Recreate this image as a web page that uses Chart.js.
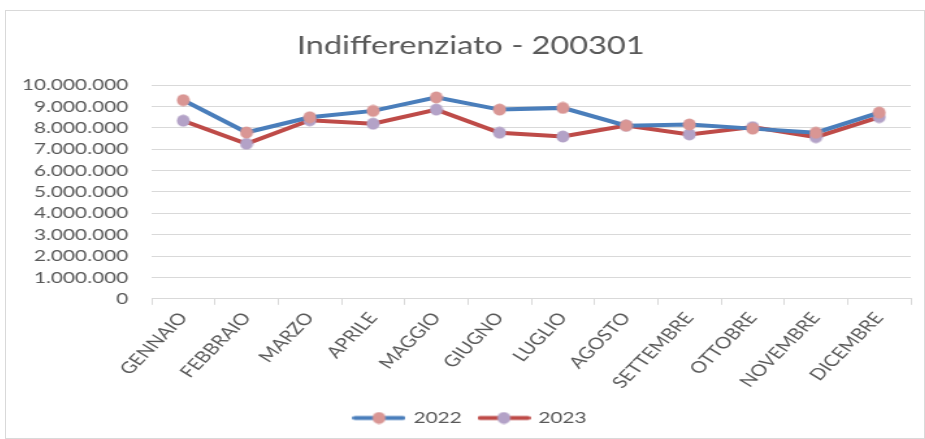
<!DOCTYPE html>
<html>
<head>
<meta charset="utf-8">
<script src="https://cdn.jsdelivr.net/npm/chart.js@4/dist/chart.umd.min.js"></script>
<style>
  html, body { margin: 0; padding: 0; background: #fff; overflow: hidden; }
  #box { position: absolute; left: 5px; top: 10px; width: 918px; height: 427px; border: 1px solid #d9d9d9; overflow: hidden; }
  /* the original picture is stretched sideways, so the canvas is too */
  #chart { display: block; transform: scaleX(1.3); transform-origin: 0 0; }
</style>
</head>
<body>
<div id="box"><canvas id="chart" width="706" height="427"></canvas></div>
<script>
const months = ["GENNAIO", "FEBBRAIO", "MARZO", "APRILE", "MAGGIO", "GIUGNO",
    "LUGLIO", "AGOSTO", "SETTEMBRE", "OTTOBRE", "NOVEMBRE", "DICEMBRE"];
const values2022 = [9290000, 7780000, 8490000, 8790000, 9420000, 8850000,
    8930000, 8100000, 8150000, 7960000, 7770000, 8710000];
const values2023 = [8330000, 7250000, 8350000, 8190000, 8850000, 7770000,
    7590000, 8100000, 7690000, 8030000, 7560000, 8500000];

const BLUE = "#4a7ebb", RED = "#be4b48", PINK = "#d99694", LILAC = "#b3a2c7";

// round-looking dot once the canvas is stretched
function dot(color) {
    const c = document.createElement("canvas");
    c.width = 11;
    c.height = 13;
    const g = c.getContext("2d");
    g.fillStyle = color;
    g.beginPath();
    g.ellipse(5.5, 6.5, 5, 6, 0, 0, Math.PI * 2);
    g.fill();
    return c;
}

function legendIcon(lineColor, dotColor) {
    const c = document.createElement("canvas");
    c.width = 41;
    c.height = 13;
    const g = c.getContext("2d");
    g.strokeStyle = lineColor;
    g.lineWidth = 4;
    g.lineCap = "round";
    g.beginPath();
    g.moveTo(2, 6.5);
    g.lineTo(39, 6.5);
    g.stroke();
    g.fillStyle = dotColor;
    g.beginPath();
    g.ellipse(20.5, 6.5, 5, 6, 0, 0, Math.PI * 2);
    g.fill();
    return c;
}

function fmt(v) {
    return String(v).replace(/\B(?=(\d{3})+(?!\d))/g, ".");
}

const ctx = document.getElementById("chart").getContext("2d");
new Chart(ctx, {
    type: "line",
    data: {
        labels: months,
        datasets: [{
            label: "2022",
            data: values2022,
            borderColor: BLUE,
            backgroundColor: PINK,
            pointStyle: dot(PINK),
            borderWidth: 4,
            pointRadius: 6,
            tension: 0,
            fill: false,
        }, {
            label: "2023",
            data: values2023,
            borderColor: RED,
            backgroundColor: LILAC,
            pointStyle: dot(LILAC),
            borderWidth: 4,
            pointRadius: 6,
            tension: 0,
            fill: false,
        }]
    },
    options: {
        responsive: false,
        animation: false,
        events: [],
        layout: { padding: { left: 13, right: 4, top: 0, bottom: 2 } },
        plugins: {
            title: {
                display: true,
                text: "Indifferenziato - 200301",
                color: "#595959",
                font: { family: "Lato", size: 25, weight: "normal" },
                padding: { top: 20, bottom: 24 },
            },
            legend: {
                position: "bottom",
                labels: {
                    color: "#595959",
                    font: { family: "Lato", size: 16 },
                    usePointStyle: true,
                    pointStyleWidth: 37,
                    boxHeight: 13,
                    padding: 14,
                    generateLabels: function (chart) {
                        const icons = [legendIcon(BLUE, PINK), legendIcon(RED, LILAC)];
                        return chart.data.datasets.map(function (ds, i) {
                            return {
                                text: ds.label,
                                pointStyle: icons[i],
                                fontColor: "#595959",
                                datasetIndex: i,
                                lineWidth: 0,
                            };
                        });
                    }
                }
            },
            tooltip: { enabled: false }
        },
        scales: {
            x: {
                offset: true,
                grid: {
                    display: true,
                    drawOnChartArea: false,
                    drawTicks: true,
                    tickLength: 6,
                    offset: true,
                    color: "#d9d9d9",
                },
                border: { color: "#d9d9d9" },
                ticks: {
                    color: "#595959",
                    font: { family: "Lato", size: 16 },
                    minRotation: 52,
                    maxRotation: 52,
                    autoSkip: false,
                    padding: 4,
                }
            },
            y: {
                min: 0,
                max: 10000000,
                grid: { color: "#d9d9d9", drawTicks: false, lineWidth: 1 },
                border: { display: false },
                afterFit: function (scale) { scale.width = 99; },
                ticks: {
                    stepSize: 1000000,
                    autoSkip: false,
                    color: "#595959",
                    font: { family: "Lato", size: 16 },
                    padding: 18,
                    callback: function (v) { return fmt(v); }
                }
            }
        }
    }
});
</script>
</body>
</html>
